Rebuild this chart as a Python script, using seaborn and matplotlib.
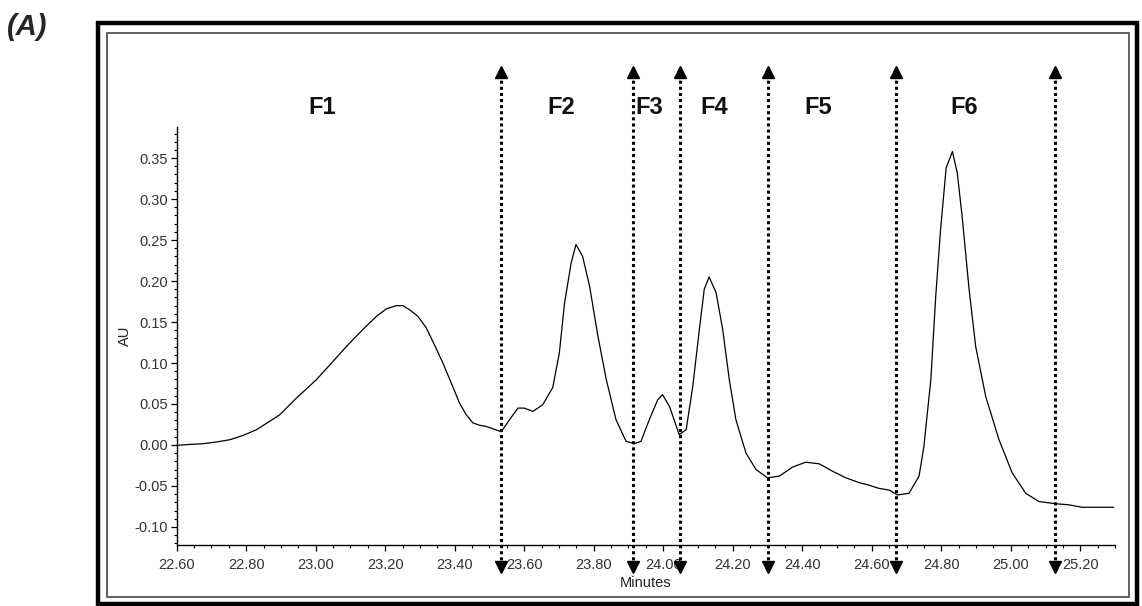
import numpy as np
import pandas as pd
import matplotlib
matplotlib.use("Agg")
import matplotlib.pyplot as plt
import matplotlib.transforms as mtransforms
from matplotlib.ticker import MultipleLocator, FormatStrFormatter
from matplotlib.patches import Rectangle
import seaborn as sns

# chromatogram trace (minutes, AU)
minutes = [22.600, 22.639, 22.677, 22.715, 22.754, 22.791, 22.830, 22.868, 22.897,
           22.945, 23.002, 23.050, 23.088, 23.136, 23.175, 23.203, 23.232, 23.251,
           23.270, 23.294, 23.318, 23.342, 23.366, 23.390, 23.414, 23.433, 23.452,
           23.472, 23.490, 23.534, 23.558, 23.582,
           23.600, 23.625, 23.653, 23.682, 23.701, 23.716, 23.735, 23.749, 23.768,
           23.788, 23.812, 23.836, 23.864, 23.893, 23.917, 23.936, 23.960, 23.984,
           23.998, 24.018, 24.046, 24.066, 24.085, 24.104, 24.118, 24.132, 24.152,
           24.171, 24.190, 24.209, 24.238, 24.267, 24.300, 24.334, 24.372, 24.410,
           24.449, 24.487, 24.525, 24.564, 24.592, 24.621, 24.650, 24.674, 24.707,
           24.736, 24.750, 24.770, 24.784, 24.798,
           24.814, 24.832, 24.846, 24.860, 24.880, 24.899, 24.928, 24.966, 25.004,
           25.043, 25.081, 25.129, 25.167, 25.205, 25.296]
au = [-0.0005, 0.0007, 0.0016, 0.0037, 0.0065, 0.0117, 0.0187, 0.0290, 0.0370,
      0.0574, 0.0797, 0.1020, 0.1200, 0.1410, 0.1570, 0.1660, 0.1700, 0.1700,
      0.1650, 0.1570, 0.1430, 0.1220, 0.1000, 0.0757, 0.0510, 0.0370, 0.0270,
      0.0240, 0.0227, 0.0162, 0.0310, 0.0450,
      0.0450, 0.0410, 0.0490, 0.0700, 0.1120, 0.1730, 0.2220, 0.2446, 0.2300,
      0.1940, 0.1330, 0.0800, 0.0310, 0.0045, 0.0016, 0.0045, 0.0310, 0.0550,
      0.0614, 0.0470, 0.0126, 0.0187, 0.0716, 0.1410, 0.1900, 0.2050, 0.1860,
      0.1410, 0.0800, 0.0310, -0.0098, -0.0300, -0.0400, -0.0380, -0.0270, -0.0210,
      -0.0230, -0.0320, -0.0400, -0.0460, -0.0490, -0.0530, -0.0550, -0.0610, -0.0590,
      -0.0380, -0.0020, 0.0800, 0.1810, 0.2630,
      0.3380, 0.3580, 0.3320, 0.2790, 0.1900, 0.1200, 0.0590, 0.0065, -0.0340,
      -0.0590, -0.0690, -0.0717, -0.0730, -0.0760, -0.0760]

# fraction cut points and labels
cuts = [23.534, 23.914, 24.049, 24.302, 24.669, 25.126]
fractions = ["F1", "F2", "F3", "F4", "F5", "F6"]
label_x = [23.02, 23.707, 23.959, 24.146, 24.447, 24.866]

df = pd.DataFrame({"Minutes": minutes, "AU": au})

sns.set_style("ticks")
plt.rcParams["font.family"] = ["Liberation Sans", "DejaVu Sans"]

fig = plt.figure(figsize=(11.42, 6.06), dpi=100)
ax = fig.add_axes([0.1547, 0.1007, 0.8217, 0.6898])

sns.lineplot(data=df, x="Minutes", y="AU", ax=ax, color="black", lw=0.9,
             estimator=None, sort=False)

ax.set_xlim(22.60, 25.30)
ax.set_ylim(-0.122, 0.388)
ax.xaxis.set_major_locator(MultipleLocator(0.2))
ax.xaxis.set_minor_locator(MultipleLocator(0.05))
ax.yaxis.set_major_locator(MultipleLocator(0.05))
ax.yaxis.set_minor_locator(MultipleLocator(0.01))
ax.xaxis.set_major_formatter(FormatStrFormatter("%.2f"))
ax.yaxis.set_major_formatter(FormatStrFormatter("%.2f"))
ax.tick_params(which="major", length=4.5, width=0.9, color="black",
               labelsize=10.5, labelcolor="#333333")
ax.tick_params(axis="x", which="major", pad=5)
ax.tick_params(axis="y", which="major", pad=1.5)
ax.tick_params(which="minor", length=2.5, width=0.8, color="black")
for s in ["top", "right"]:
    ax.spines[s].set_visible(False)
for s in ["left", "bottom"]:
    ax.spines[s].set_linewidth(1.0)
    ax.spines[s].set_color("black")

ax.set_xlabel("Minutes", fontsize=10.5, color="#222222", labelpad=3)
ax.set_ylabel("AU", fontsize=10.5, color="#222222", labelpad=2)

# dotted double-headed arrows at cut points
trans = mtransforms.blended_transform_factory(ax.transData, fig.transFigure)
for c in cuts:
    ax.plot([c, c], [0.066, 0.881], transform=trans, color="black", lw=2.2,
            linestyle=(0, (1, 1)), clip_on=False)
    ax.plot([c], [0.882], transform=trans, marker="^", ms=8, color="black",
            clip_on=False)
    ax.plot([c], [0.065], transform=trans, marker="v", ms=8, color="black",
            clip_on=False)

for lx, name in zip(label_x, fractions):
    ax.text(lx, 0.823, name, transform=trans, ha="center", va="center",
            fontsize=17, fontweight="bold", color="#111111")

# frames
fig.patches.append(Rectangle((98 / 1142, 1 - 604 / 606), (1137 - 98) / 1142,
                             (604 - 23) / 606, transform=fig.transFigure,
                             fill=False, lw=3.2, ec="black"))
fig.patches.append(Rectangle((107.3 / 1142, 1 - 596.5 / 606), (1129 - 107.3) / 1142,
                             (596.5 - 32.7) / 606, transform=fig.transFigure,
                             fill=False, lw=1.3, ec="#555555"))

fig.text(0.006, 0.955, "(A)", fontsize=21, fontweight="bold", fontstyle="italic",
         ha="left", va="center")

fig.savefig("out.png", dpi=100)
